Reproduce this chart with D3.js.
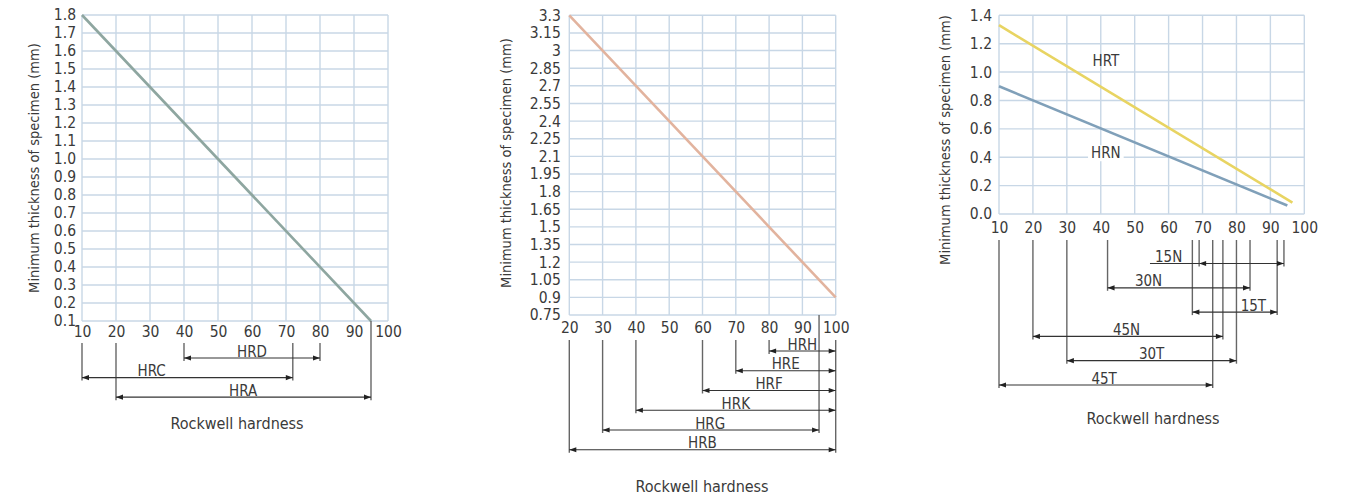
<!DOCTYPE html>
<html><head><meta charset="utf-8">
<script src="https://cdn.jsdelivr.net/npm/d3@7"></script>
<style>
body{margin:0;background:#fff}
svg{display:block}
text{font-family:'DejaVu Sans Condensed','DejaVu Sans',sans-serif;font-stretch:condensed;fill:#3a3a3a}
</style>
</head><body><svg id="c" width="1347" height="498"></svg>
<script>
// ---------- DATA ----------
// Panel 1
const p1XTicks = [10,20,30,40,50,60,70,80,90,100];
const p1YTicks = [0.1,0.2,0.3,0.4,0.5,0.6,0.7,0.8,0.9,1.0,1.1,1.2,1.3,1.4,1.5,1.6,1.7,1.8];
const p1YLabels = ["0.1","0.2","0.3","0.4","0.5","0.6","0.7","0.8","0.9","1.0","1.1","1.2","1.3","1.4","1.5","1.6","1.7","1.8"];
const p1Line = [[10,1.8],[95,0.1]];
const p1RangeNames = ["HRD","HRC","HRA"];
const p1RangeFrom = [40,10,20];
const p1RangeTo = [80,72,95];
const p1RangeLabelAt = [60,30.5,57.4];

// Panel 2
const p2XTicks = [20,30,40,50,60,70,80,90,100];
const p2YTicks = [0.75,0.9,1.05,1.2,1.35,1.5,1.65,1.8,1.95,2.1,2.25,2.4,2.55,2.7,2.85,3.0,3.15,3.3];
const p2YLabels = ["0.75","0.9","1.05","1.2","1.35","1.5","1.65","1.8","1.95","2.1","2.25","2.4","2.55","2.7","2.85","3","3.15","3.3"];
const p2Line = [[20,3.3],[100,0.9]];
const p2RangeNames = ["HRH","HRE","HRF","HRK","HRG","HRB"];
const p2RangeFrom = [80,70,60,40,30,20];
const p2RangeTo = [100,100,100,100,95,100];
const p2RangeLabelAt = [90,85,80,70,62.3,60];

// Panel 3
const p3XTicks = [10,20,30,40,50,60,70,80,90,100];
const p3YTicks = [0,0.2,0.4,0.6,0.8,1.0,1.2,1.4];
const p3YLabels = ["0.0","0.2","0.4","0.6","0.8","1.0","1.2","1.4"];
const p3HRT = [[10,1.33],[96.5,0.08]];
const p3HRN = [[10,0.90],[95,0.06]];
const p3LineNames = ["HRT","HRN"];
const p3LineLabelAt = [[41.5,1.078],[41.5,0.43]];
const p3RangeNames = ["15N","30N","15T","45N","30T","45T"];
const p3RangeFrom = [69,42,67,20,30,10];
const p3RangeTo = [94,84,92,76,80,73];
const p3RangeLabelAt = [60,54.1,85,47.6,55,41];

const yTitle = "Minimum thickness of specimen (mm)";
const xTitle = "Rockwell hardness";

// ---------- DRAW ----------
const svg = d3.select("#c");
const GRID = "#c8d7e6";
const FF = "'DejaVu Sans Condensed','DejaVu Sans',sans-serif";

function drawPanel(cfg){
  const g = svg.append("g");
  const x = d3.scaleLinear().domain(cfg.xDomain).range([cfg.left, cfg.right]);
  const y = d3.scaleLinear().domain(cfg.yDomain).range([cfg.bottom, cfg.top]);

  // grid
  g.append("g").selectAll("line").data(cfg.xTicks).join("line")
    .attr("x1", d=>x(d)).attr("x2", d=>x(d)).attr("y1", cfg.top).attr("y2", cfg.bottom)
    .attr("stroke", GRID).attr("stroke-width", 1.4);
  g.append("g").selectAll("line").data(cfg.yTicks).join("line")
    .attr("x1", cfg.left).attr("x2", cfg.right).attr("y1", d=>y(d)).attr("y2", d=>y(d))
    .attr("stroke", GRID).attr("stroke-width", 1.4);

  // y axis labels
  const ya = d3.axisLeft(y).tickValues(cfg.yTicks).tickSize(0).tickPadding(cfg.yGap)
    .tickFormat((d,i)=>cfg.yLabels[i]);
  const yg = g.append("g").attr("transform",`translate(${cfg.left},0)`).call(ya);
  yg.select(".domain").remove();
  yg.selectAll("text").style("font-size","15.5px").attr("fill","#3a3a3a").style("font-family",FF);

  // x axis labels
  const xa = d3.axisBottom(x).tickValues(cfg.xTicks).tickSize(0).tickPadding(0)
    .tickFormat(d3.format("d"));
  const xg = g.append("g").attr("transform",`translate(0,${cfg.bottom + cfg.xLabOff})`).call(xa);
  xg.select(".domain").remove();
  xg.selectAll("text").attr("dy","0.35em").attr("y",0).style("font-size","15.5px").attr("fill","#3a3a3a").style("font-family",FF);

  // data lines
  const line = d3.line().x(d=>x(d[0])).y(d=>y(d[1]));
  cfg.lines.forEach(L=>{
    g.append("path").datum(L.data).attr("d", line).attr("fill","none")
      .attr("stroke", L.color).attr("stroke-width", 2.6);
  });
  (cfg.lineLabels||[]).forEach(LL=>{
    const t = g.append("text").attr("x", x(LL.at[0])).attr("y", y(LL.at[1])).attr("dy","0.35em")
      .attr("text-anchor","middle").style("font-size","15px").text(LL.name);
    if (LL.bg){
      const b = t.node().getBBox();
      g.insert("rect", function(){return t.node();})
        .attr("x", b.x-3).attr("y", b.y+1).attr("width", b.width+6).attr("height", b.height-2).attr("fill","#fff");
    }
  });

  // ranges
  const n = cfg.rNames.length;
  const rowY = i => cfg.rowY0 + i*cfg.rowStep;
  const ends = new Map();
  for (let i=0;i<n;i++){
    [cfg.rFrom[i], cfg.rTo[i]].forEach(v=>{
      const yy = rowY(i);
      if (!ends.has(v) || ends.get(v) < yy) ends.set(v, yy);
    });
  }
  const vData = Array.from(ends, ([v,yy])=>({v,yy}));
  g.append("g").selectAll("line").data(vData).join("line")
    .attr("x1", d=>x(d.v)).attr("x2", d=>x(d.v))
    .attr("y1", d=>{
      const near = d3.min(cfg.xTicks, t=>Math.abs(t-d.v));
      return (cfg.axisStart && near > 4) ? cfg.bottom : cfg.vTop;
    })
    .attr("y2", d=>d.yy + 3)
    .attr("stroke", "#666").attr("stroke-width", 1.4);

  for (let i=0;i<n;i++){
    const yy = rowY(i);
    const xa0 = x(cfg.rFrom[i]), xa1 = x(cfg.rTo[i]);
    g.append("line").attr("x1", xa0).attr("x2", xa1).attr("y1", yy).attr("y2", yy)
      .attr("stroke","#333").attr("stroke-width",1.2);
    g.append("path").attr("d", `M${xa0},${yy}L${xa0+7},${yy-2.6}L${xa0+7},${yy+2.6}Z`).attr("fill","#222");
    g.append("path").attr("d", `M${xa1},${yy}L${xa1-7},${yy-2.6}L${xa1-7},${yy+2.6}Z`).attr("fill","#222");
    const t = g.append("text").attr("x", x(cfg.rLabelAt[i])).attr("y", yy-1.5)
      .attr("text-anchor","middle").style("font-size","15px").text(cfg.rNames[i]);
    if (cfg.rLabelAt[i] < cfg.rFrom[i]){
      const w = t.node().getComputedTextLength();
      g.append("line").attr("x1", x(cfg.rLabelAt[i]) - w/2 - 5).attr("x2", xa0)
        .attr("y1", yy).attr("y2", yy).attr("stroke","#333").attr("stroke-width",1.2);
    }
  }

  // titles
  g.append("text").attr("transform",`translate(${cfg.yTitleX},${cfg.yTitleY}) rotate(-90)`)
    .attr("dy","0.35em").attr("text-anchor","middle").style("font-size","14.5px").text(yTitle);
  g.append("text").attr("x", cfg.xTitleX).attr("y", cfg.xTitleY).attr("dy","0.35em")
    .attr("text-anchor","middle").style("font-size","16px").text(xTitle);
}

drawPanel({
  left:82, right:388, top:15, bottom:321, xDomain:[10,100], yDomain:[0.1,1.8],
  xTicks:p1XTicks, yTicks:p1YTicks, yLabels:p1YLabels, yGap:6, xLabOff:11,
  lines:[{data:p1Line, color:"#8ea6a0"}],
  rNames:p1RangeNames, rFrom:p1RangeFrom, rTo:p1RangeTo, rLabelAt:p1RangeLabelAt,
  rowY0:358, rowStep:19.6, vTop:343, axisStart:true,
  yTitleX:34, yTitleY:168, xTitleX:237, xTitleY:423
});
drawPanel({
  left:569.3, right:835.7, top:15.3, bottom:315, xDomain:[20,100], yDomain:[0.75,3.3],
  xTicks:p2XTicks, yTicks:p2YTicks, yLabels:p2YLabels, yGap:8.5, xLabOff:13,
  lines:[{data:p2Line, color:"#e2b39e"}],
  rNames:p2RangeNames, rFrom:p2RangeFrom, rTo:p2RangeTo, rLabelAt:p2RangeLabelAt,
  rowY0:351, rowStep:19.75, vTop:340, axisStart:true,
  yTitleX:506, yTitleY:163, xTitleX:702, xTitleY:486
});
drawPanel({
  left:999, right:1304.3, top:15.3, bottom:214, xDomain:[10,100], yDomain:[0,1.4],
  xTicks:p3XTicks, yTicks:p3YTicks, yLabels:p3YLabels, yGap:7, xLabOff:14,
  lines:[{data:p3HRT, color:"#e8d462"},{data:p3HRN, color:"#80a0b9"}],
  lineLabels:[{name:p3LineNames[0], at:p3LineLabelAt[0]},{name:p3LineNames[1], at:p3LineLabelAt[1], bg:true}],
  rNames:p3RangeNames, rFrom:p3RangeFrom, rTo:p3RangeTo, rLabelAt:p3RangeLabelAt,
  rowY0:263.5, rowStep:24.3, vTop:240, axisStart:false,
  yTitleX:945, yTitleY:140, xTitleX:1153, xTitleY:418
});
</script>
</body></html>
